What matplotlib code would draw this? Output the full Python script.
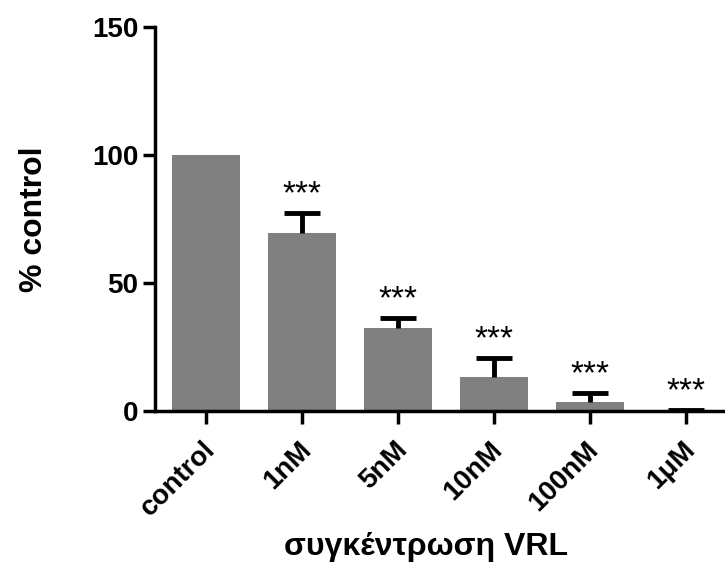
import matplotlib
matplotlib.use("Agg")
import matplotlib.pyplot as plt
import matplotlib.transforms as mtransforms
import numpy as np

plt.rcParams['font.family'] = ['Liberation Sans', 'DejaVu Sans']

labels = ['control', '1nM', '5nM', '10nM', '100nM', '1\u03bcM']
means = [100, 69.5, 32.4, 13.3, 3.5, 0.3]
sem = [0, 7.8, 3.9, 7.4, 3.5, 0.0]
stars = ['', '***', '***', '***', '***', '***']

fig = plt.figure(figsize=(7.25, 5.68), dpi=100)
ax = fig.add_axes([0.214, 0.276, 0.786, 0.676])

x = np.arange(len(labels))
ax.bar(x, means, width=0.71, color='#808080', zorder=2)
eb = ax.errorbar(x[1:], means[1:], yerr=[np.zeros(len(x) - 1), sem[1:]],
                 fmt='none', ecolor='black', elinewidth=3.5, capsize=13,
                 capthick=3.5, zorder=3)
# only the upper half of the error bar is drawn
eb[1][0].set_visible(False)

for xi, m, e, s in zip(x, means, sem, stars):
    if s:
        ax.text(xi, m + e + 4, s, ha='center', va='baseline', fontsize=24)

ax.set_xlim(-0.53, 5.41)
ax.set_ylim(0, 150)
ax.set_yticks([0, 50, 100, 150])
ax.set_xticks(x)
ax.set_xticklabels([])
# rotated category labels, placed below the ticks as in the original
shift = mtransforms.ScaledTranslation(-0.04, -0.25, fig.dpi_scale_trans)
for xi, lab in zip(x, labels):
    ax.text(xi, 0, lab, transform=ax.get_xaxis_transform() + shift,
            rotation=45, rotation_mode='anchor', ha='right', va='top',
            fontsize=20, fontweight='bold')
for t in ax.get_yticklabels():
    t.set_fontsize(20)
    t.set_fontweight('bold')

for side in ['top', 'right']:
    ax.spines[side].set_visible(False)
for side in ['left', 'bottom']:
    ax.spines[side].set_linewidth(2.5)
ax.tick_params(direction='out', length=9, width=2.5, pad=3)

ax.set_ylabel('% control', fontsize=23, fontweight='bold')
ax.yaxis.set_label_coords(-0.187, 0.5)
ax.set_xlabel('\u03c3\u03c5\u03b3\u03ba\u03ad\u03bd\u03c4\u03c1\u03c9\u03c3\u03b7 VRL',
              fontsize=23, fontweight='bold')
ax.xaxis.set_label_coords((426 - 155) / 570, -0.315)

fig.savefig('out.png', dpi=100)
